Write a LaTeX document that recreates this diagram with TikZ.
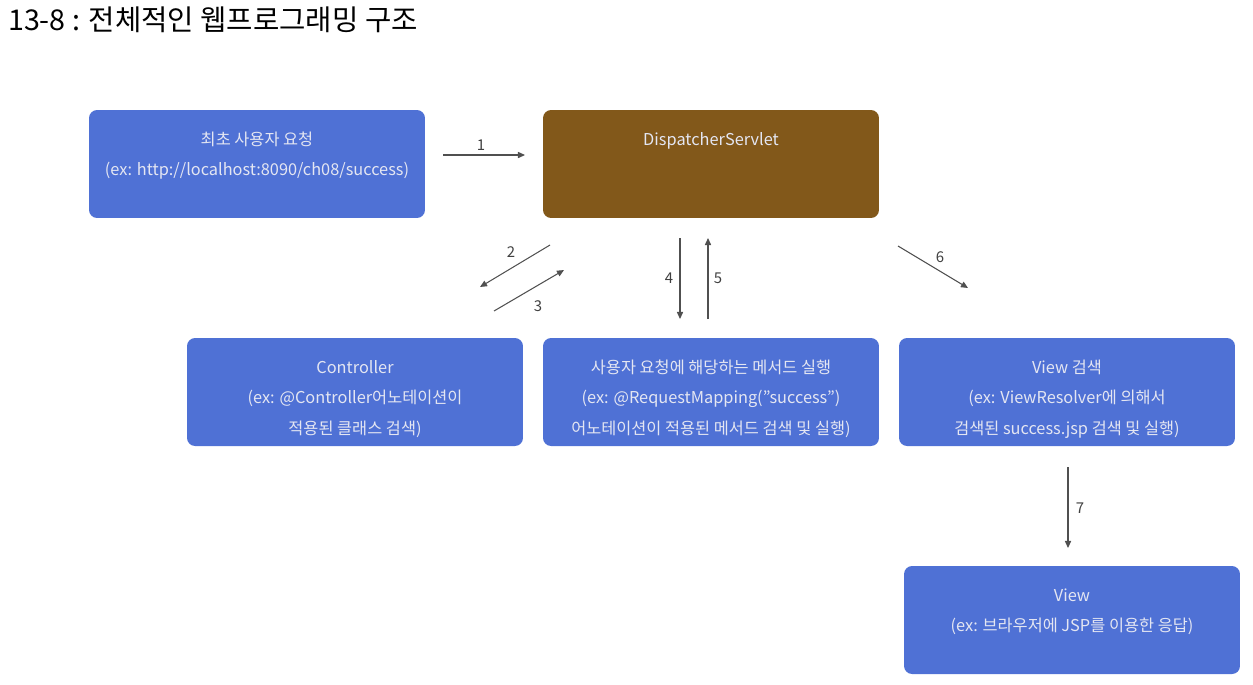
\documentclass[tikz,border=0pt]{standalone}
\usepackage{fontspec}
\setmainfont{Noto Sans CJK KR}
\usetikzlibrary{arrows.meta}
\definecolor{boxblue}{RGB}{79,113,213}
\definecolor{boxbrown}{RGB}{130,88,26}
\definecolor{boxtext}{RGB}{228,230,242}
\definecolor{arrowgray}{RGB}{80,80,80}
\def\inbox#1{\parbox[c][2.16cm][t]{6.6cm}{\centering\fontsize{9.3pt}{17.5pt}\selectfont\rule{0pt}{0.7cm}#1}}
\tikzset{
  bluebox/.style={fill=boxblue, text=boxtext, rounded corners=0.16cm, inner sep=0pt,
    minimum width=6.72cm, minimum height=2.16cm},
  brownbox/.style={bluebox, fill=boxbrown},
  arr/.style={draw=arrowgray, line width=0.6pt, -{Triangle[length=4pt,width=3.5pt]}},
  num/.style={text=black!75, font=\fontsize{8.5pt}{10pt}\selectfont, inner sep=1pt}
}

\begin{document}
\begin{tikzpicture}[x=0.02cm, y=-0.02cm]
  %%%%% START %%%%%
  \useasboundingbox (0,0) rectangle (1253,684);

  \node[anchor=west, font=\fontsize{16.3pt}{18pt}\selectfont] (title) at (2,20) {13-8 : 전체적인 웹프로그래밍 구조};

  % boxes
  \node[bluebox] (request) at (257,164) {\inbox{최초 사용자 요청\\(ex: http://localhost:8090/ch08/success)}};
  \node[brownbox] (dispatcher) at (711,164) {\inbox{DispatcherServlet}};
  \node[bluebox] (controller) at (355,392) {\inbox{Controller\\(ex: @Controller어노테이션이\\적용된 클래스 검색)}};
  \node[bluebox] (method) at (711,392) {\inbox{사용자 요청에 해당하는 메서드 실행\\(ex: @RequestMapping(”success”)\\어노테이션이 적용된 메서드 검색 및 실행)}};
  \node[bluebox] (viewsearch) at (1067,392) {\inbox{View 검색\\(ex: ViewResolver에 의해서\\검색된 success.jsp 검색 및 실행)}};
  \node[bluebox] (view) at (1072,620) {\inbox{View\\(ex: 브라우저에 JSP를 이용한 응답)}};

  % arrow ends
  \coordinate (a1s) at (443,155); \coordinate (a1e) at (525,155);
  \coordinate (a2s) at (550,245); \coordinate (a2e) at (480,287);
  \coordinate (a3s) at (494,311); \coordinate (a3e) at (564,270);
  \coordinate (a4s) at (680,238); \coordinate (a4e) at (680,319);
  \coordinate (a5s) at (708,319); \coordinate (a5e) at (708,238);
  \coordinate (a6s) at (898,246); \coordinate (a6e) at (968,288);
  \coordinate (a7s) at (1068,467); \coordinate (a7e) at (1068,548);

  \draw[arr] (a1s) -- (a1e);
  \draw[arr] (a2s) -- (a2e);
  \draw[arr] (a3s) -- (a3e);
  \draw[arr] (a4s) -- (a4e);
  \draw[arr] (a5s) -- (a5e);
  \draw[arr] (a6s) -- (a6e);
  \draw[arr] (a7s) -- (a7e);

  \node[num] (n1) at (481,145) {1};
  \node[num] (n2) at (511,252) {2};
  \node[num] (n3) at (538,306) {3};
  \node[num] (n4) at (669,278) {4};
  \node[num] (n5) at (718,278) {5};
  \node[num] (n6) at (940,257) {6};
  \node[num] (n7) at (1080,508) {7};
  %%%%% END %%%%%
\end{tikzpicture}
\end{document}
